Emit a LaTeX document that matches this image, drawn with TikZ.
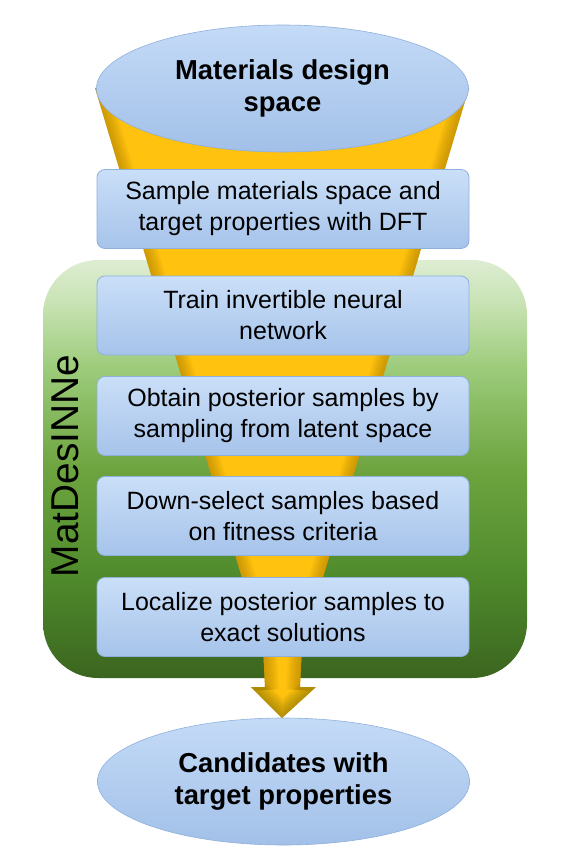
\documentclass[tikz,border=0pt]{standalone}
\usepackage{fontspec}
\setmainfont{Liberation Sans}
\usetikzlibrary{shapes.geometric}
\definecolor{boxtop}{HTML}{CADFF8}
\definecolor{boxbot}{HTML}{A6C3EA}
\definecolor{boxedge}{HTML}{8FB0DC}
\definecolor{ellTop}{HTML}{C4DBF7}
\definecolor{ellBot}{HTML}{A2C0E8}
\definecolor{gold}{HTML}{FFC20E}
\definecolor{goldEdge}{HTML}{8A6400}
\definecolor{goldDark}{HTML}{5E5A00}
\definecolor{gA}{HTML}{3B651F}
\definecolor{gB}{HTML}{4F8A2C}
\definecolor{gC}{HTML}{6DA43F}
\definecolor{gD}{HTML}{9CCB7A}
\definecolor{gE}{HTML}{C9E3B5}
\definecolor{gF}{HTML}{DDEDD2}
\pgfdeclareverticalshading{greenshade}{100bp}{%
  color(0bp)=(gA);
  color(25bp)=(gA);
  color(37bp)=(gB);
  color(50bp)=(gC);
  color(62bp)=(gD);
  color(70bp)=(gE);
  color(75bp)=(gF);
  color(100bp)=(gF)}
\tikzset{
  stepbox/.style={rectangle, rounded corners=8pt, minimum width=372pt, minimum height=79pt,
    top color=boxtop, bottom color=boxbot, draw=boxedge, line width=0.8pt,
    align=center, inner sep=0pt, font=\fontsize{25}{31}\selectfont},
  endell/.style={ellipse, minimum width=372pt, minimum height=127pt, inner sep=0pt,
    top color=ellTop, bottom color=ellBot, draw=boxedge, line width=0.6pt,
    align=center, font=\fontsize{27.4}{31.5}\selectfont\bfseries},
}
\begin{document}
\begin{tikzpicture}[x=1pt,y=-1pt]
\useasboundingbox (0,0) rectangle (562,856);
% green MatDesINNe panel
\shade[shading=greenshade] (43,260) [rounded corners=55pt] -- (527,260) -- (527,678) -- (43,678) -- cycle;
\node[rotate=90, inner sep=0pt, font=\fontsize{38.8}{40}\selectfont] (mat) at (65,466) {MatDesINNe};
% funnel
\fill[gold]
  (95,88) -- (469,88) -- (302,648) -- (300,687) -- (316,687) -- (282,718) -- (251,687) -- (265,687) -- (263,648) -- cycle;
\begin{scope}
  \clip (95,88) -- (469,88) -- (302,648) -- (300,687) -- (316,687) -- (282,718) -- (251,687) -- (265,687) -- (263,648) -- cycle;
  \foreach \w in {28,25,...,1}{
    \draw[line width=\w pt, goldEdge, opacity=0.05] (95,88) -- (263,648) -- (265,690);
    \draw[line width=\w pt, goldEdge, opacity=0.05] (469,88) -- (302,648) -- (300,690);
    \draw[line width=\w pt, goldDark, opacity=0.06] (251,687) -- (282,718) -- (316,687);
  }
\end{scope}
% top ellipse
\node[endell] (top) at (282.5,88.5) {Materials design\\space};
% step boxes
\node[stepbox] (s1) at (283,209) {Sample materials space and\\target properties with DFT};
\node[stepbox] (s2) at (283,315.5) {Train invertible neural\\network};
\node[stepbox] (s3) at (283,416) {Obtain posterior samples by\\sampling from latent space};
\node[stepbox] (s4) at (283,516) {Down-select samples based\\on fitness criteria};
\node[stepbox] (s5) at (283,617) {Localize posterior samples to\\exact solutions};
% bottom ellipse
\node[endell] (bot) at (283.5,781.5) {Candidates with\\target properties};
\end{tikzpicture}
\end{document}
